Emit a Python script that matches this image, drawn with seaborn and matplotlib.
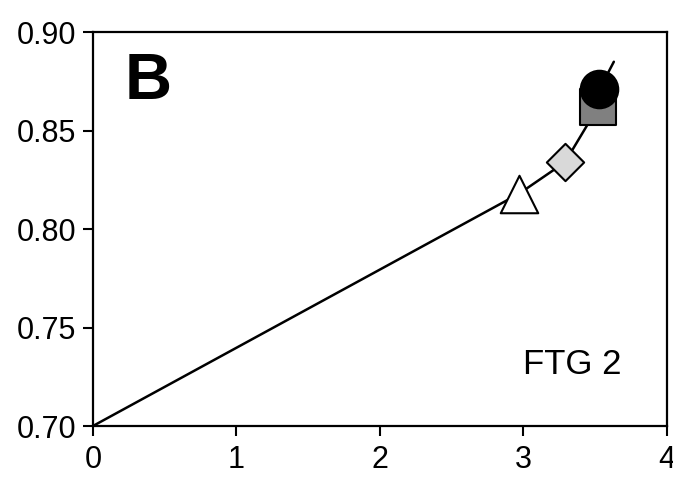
import matplotlib
matplotlib.use("Agg")

import pandas as pd
import seaborn as sns
import matplotlib.pyplot as plt

sns.set_style("ticks")
plt.rcParams['font.family'] = ['Liberation Sans', 'DejaVu Sans']
plt.rcParams['text.color'] = 'black'
plt.rcParams['xtick.color'] = 'black'
plt.rcParams['ytick.color'] = 'black'

# line through the points
line_x = [0.0, 2.97, 3.29, 3.52, 3.53, 3.63]
line_y = [0.700, 0.818, 0.834, 0.862, 0.871, 0.885]

# markers
pt_x = [2.97, 3.29, 3.52, 3.53]
pt_y = [0.818, 0.834, 0.862, 0.871]
pt_marker = ['^', 'D', 's', 'o']
pt_color = ['white', '#d9d9d9', '#808080', 'black']
pt_size = [27, 19, 26, 27]

fig = plt.figure(figsize=(6.73, 4.88), dpi=100)
ax = fig.add_axes([0.138, 0.127, 0.853, 0.807])

line_df = pd.DataFrame({'x': line_x, 'y': line_y})
sns.lineplot(data=line_df, x='x', y='y', ax=ax, color='black', lw=1.8,
             sort=False, zorder=2)

for i in range(len(pt_x)):
    sns.scatterplot(x=[pt_x[i]], y=[pt_y[i]], ax=ax, marker=pt_marker[i],
                    color=pt_color[i], s=pt_size[i] ** 2, edgecolor='black',
                    linewidth=1.5, zorder=3 + i)

ax.set_xlim(0, 4)
ax.set_ylim(0.70, 0.90)
ax.set_xticks([0, 1, 2, 3, 4])
ax.set_yticks([0.70, 0.75, 0.80, 0.85, 0.90])
ax.set_yticklabels(['0.70', '0.75', '0.80', '0.85', '0.90'])
ax.set_xlabel('')
ax.set_ylabel('')
ax.tick_params(labelsize=22, length=7, width=1.5, color='black', pad=5)
ax.tick_params(axis='x', pad=7)

for sp in ax.spines.values():
    sp.set_visible(True)
    sp.set_linewidth(1.6)
    sp.set_color('black')

ax.text(0.055, 0.95, 'B', transform=ax.transAxes, fontsize=47,
        fontweight='bold', va='top', ha='left')
ax.text(0.92, 0.155, 'FTG 2', transform=ax.transAxes, fontsize=25,
        va='center', ha='right')

plt.savefig('out.png', dpi=100)
plt.close()
